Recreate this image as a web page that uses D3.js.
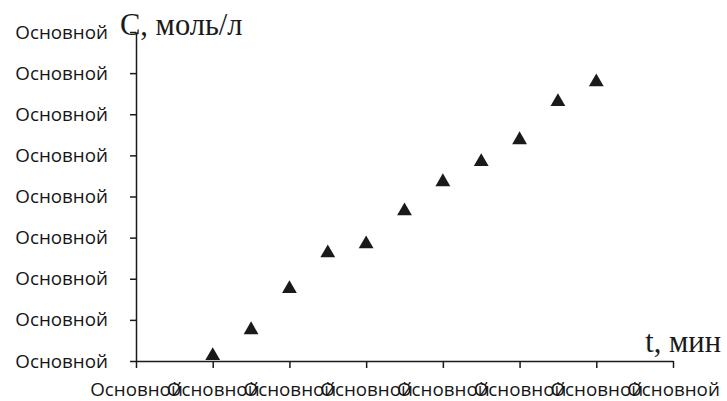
<!DOCTYPE html>
<html lang="ru">
<head>
<meta charset="UTF-8">
<script src="https://d3js.org/d3.v7.min.js"></script>
<style>
  body { margin: 0; background: #fff; }
  .tick text { font-family: "Open Sans", sans-serif; font-size: 18.8px; fill: #161616; }
  .title { font-family: "Liberation Serif", "Times New Roman", serif; font-size: 30.5px; fill: #1a1a1a; }
</style>
</head>
<body>
<div id="chart"></div>
<script>
// time, min
const tValues = [1, 1.5, 2, 2.5, 3, 3.5, 4, 4.5, 5, 5.5, 6];
// concentration, mol/l
const cValues = [0.15, 0.78, 1.78, 2.65, 2.87, 3.67, 4.38, 4.87, 5.40, 6.33, 6.81];
const xTicks = [0, 1, 2, 3, 4, 5, 6, 7];
const yTicks = [0, 1, 2, 3, 4, 5, 6, 7, 8];
const tickLabel = "Основной";

const width = 727, height = 401;
const margin = {left: 136, right: 54, top: 32, bottom: 40};

const svg = d3.select("#chart").append("svg")
  .attr("width", width).attr("height", height);

const x = d3.scaleLinear().domain([0, 7]).range([margin.left, width - margin.right]);
const y = d3.scaleLinear().domain([0, 8]).range([height - margin.bottom, margin.top]);

svg.append("g")
  .attr("transform", `translate(0,${y(0)})`)
  .call(d3.axisBottom(x).tickValues(xTicks).tickFormat(() => tickLabel).tickSize(7).tickSizeOuter(0).tickPadding(15));

svg.append("g")
  .attr("transform", `translate(${x(0)},0)`)
  .call(d3.axisLeft(y).tickValues(yTicks).tickFormat(() => tickLabel).tickSize(6).tickSizeOuter(0).tickPadding(22));

svg.selectAll(".domain, .tick line").attr("stroke", "#1a1a1a").attr("stroke-width", 1.5);

svg.append("g")
  .selectAll("path")
  .data(tValues)
  .join("path")
  .attr("d", d3.symbol(d3.symbolTriangle, 95))
  .attr("transform", (d, i) => `translate(${x(d)},${y(cValues[i]) + 1})`)
  .attr("fill", "#1a1a1a");

svg.append("text").attr("class", "title")
  .attr("x", 120).attr("y", 35)
  .text("C, моль/л");

svg.append("text").attr("class", "title")
  .attr("x", 721).attr("y", 352).attr("text-anchor", "end")
  .text("t, мин");
</script>
</body>
</html>
